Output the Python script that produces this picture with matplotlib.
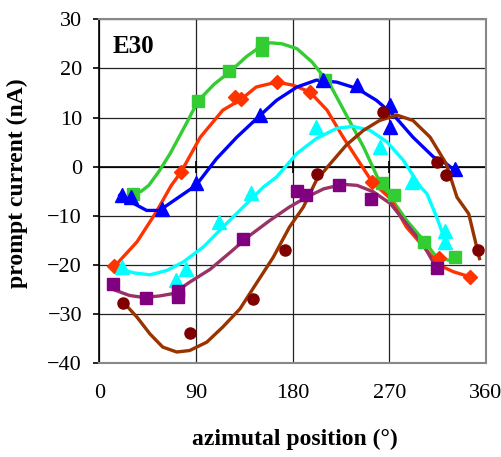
import matplotlib.pyplot as plt
import numpy as np

plt.rcParams['font.family'] = ['Liberation Serif', 'DejaVu Serif']

# measured points (azimuth in degrees, current in nA)
green_x = [31, 92, 121, 151, 151, 210, 263, 274, 302, 331]
green_y = [-5.5, 13.4, 19.4, 25.2, 23.8, 17.6, -3.3, -5.8, -15.3, -18.4]
red_x = [14, 76, 126, 132, 165, 196, 254, 316, 345]
red_y = [-20.3, -1.1, 14.2, 13.7, 17.2, 15.2, -3.1, -18.5, -22.4]
blue_x = [21, 29, 58, 90, 150, 208, 240, 271, 271, 331]
blue_y = [-5.8, -6.2, -8.7, -3.4, 10.5, 17.6, 16.6, 12.5, 8.1, -0.4]
cyan_x = [21, 71, 81, 111, 141, 202, 261, 291, 322, 322]
cyan_y = [-20.5, -23.0, -20.9, -11.3, -5.4, 8.1, 4.0, -3.1, -13.0, -15.3]
purple_x = [13, 43, 73, 73, 134, 184, 192, 223, 253, 314]
purple_y = [-23.8, -26.8, -25.2, -26.6, -14.8, -5.0, -5.8, -3.8, -6.6, -20.7]
maroon_x = [22, 84, 143, 173, 203, 264, 314, 323, 353]
maroon_y = [-27.7, -33.8, -27.0, -16.9, -1.5, 11.1, 1.0, -1.7, -16.9]

# fitted curves
gfit_x = [31, 39, 46, 56, 66, 81, 92, 107, 122, 137, 151, 159, 170, 184, 198, 215, 230, 246, 261, 271, 286, 302, 314, 325]
gfit_y = [-5.5, -5.0, -3.8, -0.8, 2.7, 8.8, 13.4, 16.8, 19.4, 22.4, 24.6, 25.2, 25.0, 24.0, 21.3, 16.6, 10.5, 4.0, -3.1, -6.2, -10.9, -15.0, -18.4, -19.0]
rfit_x = [14, 35, 53, 67, 76, 94, 115, 132, 146, 165, 180, 196, 212, 227, 243, 254, 271, 286, 302, 317, 330, 345]
rfit_y = [-20.3, -15.3, -9.2, -3.8, -1.1, 6.0, 11.5, 13.7, 16.2, 17.2, 16.6, 15.2, 11.5, 6.0, 0.6, -3.1, -6.5, -12.3, -16.3, -20.1, -21.4, -22.4]
bfit_x = [19, 32, 44, 56, 72, 90, 109, 128, 150, 165, 184, 202, 221, 240, 258, 274, 292, 311, 323, 333]
bfit_y = [-5.8, -7.5, -8.9, -8.9, -6.5, -3.8, 1.6, 6.0, 10.5, 13.5, 16.2, 17.6, 17.2, 15.9, 13.5, 10.5, 6.0, 2.0, 0.6, -1.1]
cfit_x = [18, 32, 47, 63, 78, 97, 115, 134, 153, 165, 184, 202, 221, 236, 252, 268, 283, 299, 305, 314, 323]
cfit_y = [-20.7, -21.6, -22.0, -21.1, -19.4, -16.3, -12.3, -8.2, -4.1, -2.1, 2.7, 5.7, 7.8, 8.2, 7.4, 5.0, 1.3, -4.1, -5.5, -10.2, -15.6]
pfit_x = [13, 28, 41, 56, 69, 84, 103, 122, 140, 159, 177, 193, 209, 227, 240, 255, 271, 286, 302, 316]
pfit_y = [-25.0, -26.2, -26.6, -26.3, -25.8, -23.5, -20.9, -17.4, -14.0, -10.9, -8.2, -6.2, -4.5, -3.6, -3.8, -5.1, -7.5, -11.6, -16.0, -21.4]
mfit_x = [22, 35, 47, 59, 72, 84, 100, 115, 131, 146, 162, 177, 190, 202, 215, 230, 246, 261, 277, 292, 308, 323, 333, 344, 354]
mfit_y = [-27.5, -30.6, -34.0, -36.7, -37.7, -37.4, -35.7, -32.6, -28.9, -23.8, -18.4, -12.3, -8.2, -2.8, 0.6, 4.4, 7.4, 9.4, 10.5, 9.4, 6.0, 0.6, -6.2, -9.6, -18.7]

x_ticks = [0, 90, 180, 270, 360]
y_ticks = [-40, -30, -20, -10, 0, 10, 20, 30]

fig = plt.figure(figsize=(5.02, 4.57), dpi=100)
ax = fig.add_axes([0.198, 0.205, 0.770, 0.753])

lw = 2.4
ax.plot(gfit_x, gfit_y, color='#33CC33', lw=lw, zorder=3)
ax.plot(rfit_x, rfit_y, color='#FF3300', lw=lw, zorder=3)
ax.plot(bfit_x, bfit_y, color='#0000FF', lw=lw, zorder=3)
ax.plot(cfit_x, cfit_y, color='#00FFFF', lw=lw, zorder=3)
ax.plot(pfit_x, pfit_y, color='#993366', lw=lw, zorder=3)
ax.plot(mfit_x, mfit_y, color='#993300', lw=lw, zorder=3)

ax.plot(green_x, green_y, 's', color='#33CC33', ms=8.5, mec='#33CC33', zorder=4)
ax.plot(red_x, red_y, 'D', color='#FF3300', ms=7.5, zorder=4)
ax.plot(blue_x, blue_y, '^', color='#0000FF', ms=10.5, zorder=4)
ax.plot(cyan_x, cyan_y, '^', color='#00FFFF', ms=10.5, zorder=4)
ax.plot(purple_x, purple_y, 's', color='#800080', ms=8.5, zorder=4)
ax.plot(maroon_x, maroon_y, 'o', color='#800000', ms=8, zorder=4)

ax.set_xlim(0, 360)
ax.set_ylim(-40, 30)
ax.set_xticks(x_ticks)
ax.set_yticks(y_ticks)
ax.grid(True, color='#222222', lw=0.9)
ax.set_axisbelow(True)

# x axis crosses at y = 0
ax.axhline(0, color='black', lw=1.2, zorder=2)
ax.plot(x_ticks, [0] * len(x_ticks), '|', color='black', ms=8, mew=1.2, zorder=2)

for side in ['top', 'right', 'bottom']:
    ax.spines[side].set_color('#888888')
    ax.spines[side].set_linewidth(1.5)
ax.spines['left'].set_linewidth(1.2)
ax.tick_params(axis='x', length=0, labelsize=16, pad=15)
ax.tick_params(axis='y', direction='out', length=4.5, width=1.2, labelsize=16, pad=8)

ax.set_xlabel('azimutal position (°)', fontsize=17, fontweight='bold')
ax.set_ylabel('prompt current (nA)', fontsize=17, fontweight='bold')
ax.xaxis.set_label_coords(0.505, -0.19)
ax.yaxis.set_label_coords(-0.185, 0.524)
ax.text(0.035, 0.955, 'E30', transform=ax.transAxes, fontsize=18, fontweight='bold',
        ha='left', va='top')

fig.savefig('out.png', dpi=100)
